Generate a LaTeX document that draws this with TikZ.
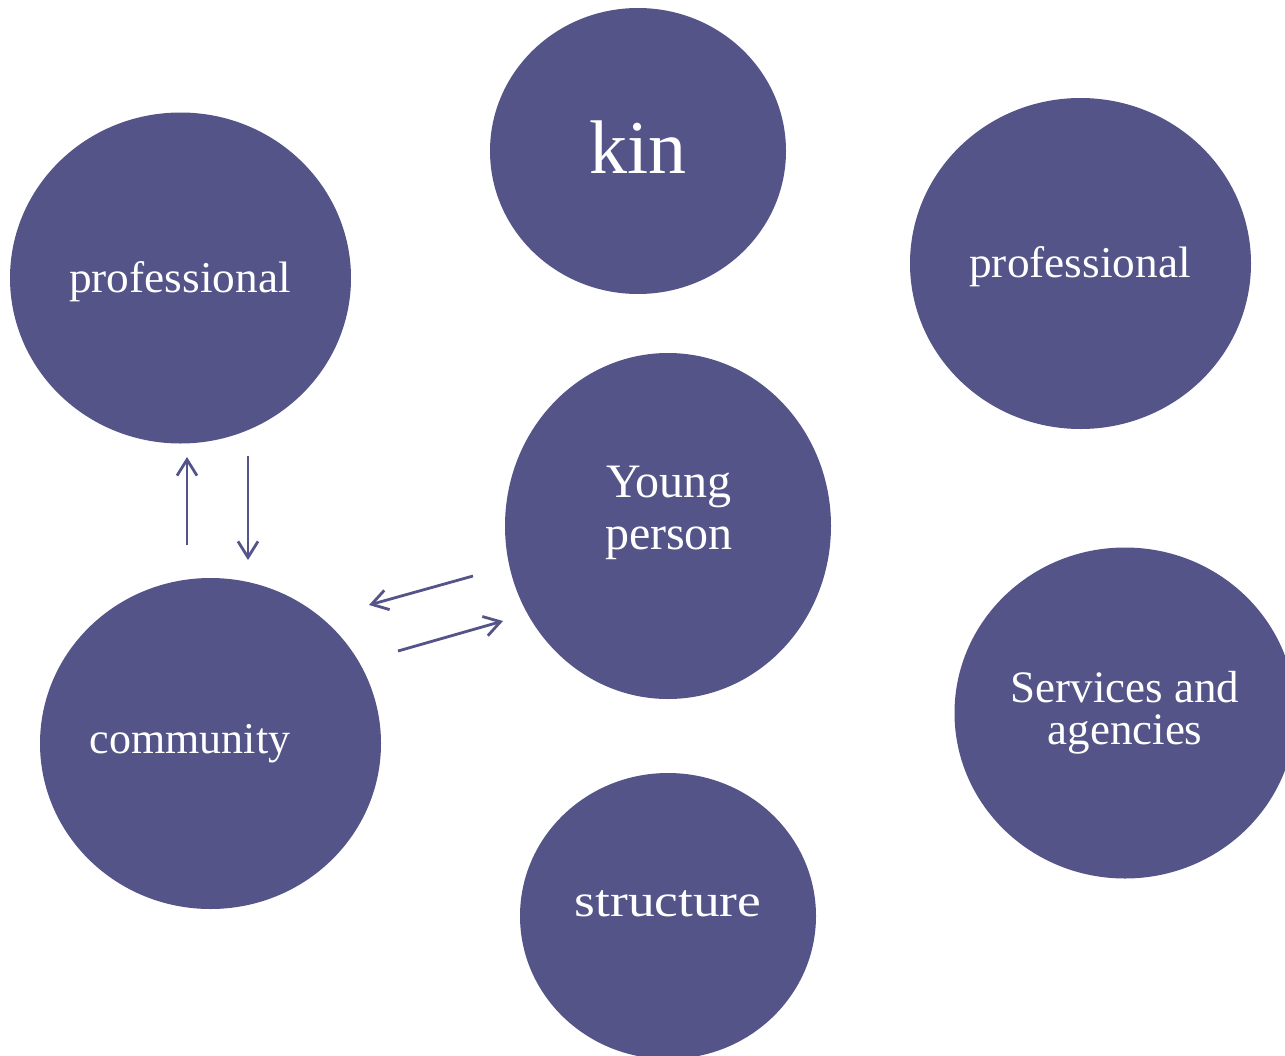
\documentclass[tikz,border=0pt]{standalone}
\usepackage{fontspec}
\setmainfont{Liberation Serif}
\usetikzlibrary{arrows.meta,shapes.geometric}
\definecolor{blobc}{RGB}{84,84,137}
\tikzset{
  blob/.style={ellipse, fill=blobc, draw=none, inner sep=0pt},
  lbl/.style={text=white, anchor=base, inner sep=0pt, align=center, font=\fontsize{44}{48}\selectfont},
  conn/.style={draw=blobc, line width=2.8pt, -{Straight Barb[length=16pt,width=20pt,line width=2.8pt]}}
}
\begin{document}
\begin{tikzpicture}[x=1pt,y=-1pt]
\useasboundingbox (0,0) rectangle (1285,1055);
\clip (0,0) rectangle (1285,1055);
% circles
\node[blob, minimum width=296pt, minimum height=286pt] (kin) at (638,151) {};
\node[blob, minimum width=341pt, minimum height=331pt] (profL) at (180.5,278) {};
\node[blob, minimum width=341pt, minimum height=331pt] (profR) at (1080.5,263.5) {};
\node[blob, minimum width=326pt, minimum height=346pt] (yp) at (668,526) {};
\node[blob, minimum width=341pt, minimum height=331pt] (comm) at (210.5,743.5) {};
\node[blob, minimum width=341pt, minimum height=331pt] (serv) at (1125,713) {};
\node[blob, minimum width=296pt, minimum height=286pt] (struc) at (668,916) {};
% labels
\node[lbl, font=\fontsize{76}{80}\selectfont] (kinT) at (638,173) {kin};
\node[lbl] (profLT) at (180,292) {\scalebox{1.03}[1]{professional}};
\node[lbl] (profRT) at (1080,277) {\scalebox{1.03}[1]{professional}};
\node[lbl, font=\fontsize{48}{52}\selectfont] (ypT) at (669,549) {Young\\person};
\node[lbl] (commT) at (190,753) {community};
\node[lbl, font=\fontsize{45}{42}\selectfont] (servT) at (1125,744) {Services and\\agencies};
\node[lbl, font=\fontsize{46}{50}\selectfont] (strucT) at (668,916) {\scalebox{1.16}[1]{structure}};
% connector end points
\coordinate (a1s) at (187,545);
\coordinate (a1e) at (187,457);
\coordinate (a2s) at (248,456);
\coordinate (a2e) at (248,560);
\coordinate (a3s) at (473,576);
\coordinate (a3e) at (369,605);
\coordinate (a4s) at (398,651);
\coordinate (a4e) at (503,621);
\draw[conn] (a1s) -- (a1e);
\draw[conn] (a2s) -- (a2e);
\draw[conn] (a3s) -- (a3e);
\draw[conn] (a4s) -- (a4e);
\end{tikzpicture}
\end{document}
